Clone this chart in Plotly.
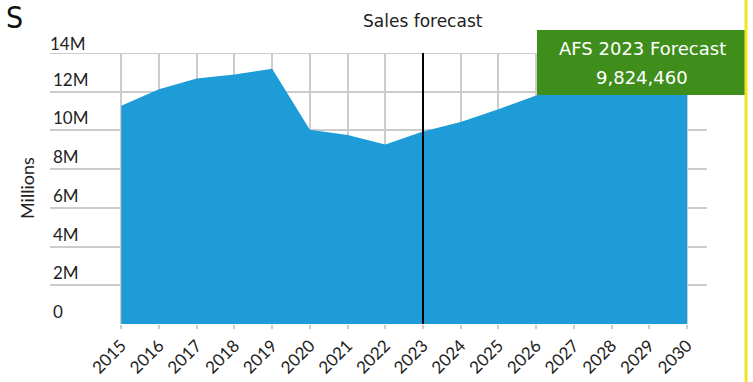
import plotly.graph_objects as go

years = list(range(2015, 2031))
sales = [11.27e6, 12.13e6, 12.68e6, 12.89e6, 13.19e6, 10.03e6, 9.77e6, 9.27e6,
         9.95e6, 10.43e6, 11.1e6, 11.8e6, 12.4e6, 12.9e6, 13.3e6, 13.7e6]
ytick_vals = [0, 2e6, 4e6, 6e6, 8e6, 10e6, 12e6, 14e6]
ytick_text = ["0", "2M", "4M", "6M", "8M", "10M", "12M", "14M"]
forecast_year = 2023
forecast_title = "AFS 2023 Forecast"
forecast_value = "9,824,460"

W, H = 753, 382
L, R, T, B = 50, 46, 53, 58
pw, ph = W - L - R, H - T - B


def px(x):
    return (x - L) / pw


def py(y):
    return (H - B - y) / ph


fig = go.Figure()
fig.add_trace(go.Scatter(
    x=years, y=sales, mode="lines", fill="tozeroy",
    line=dict(width=0, color="#1d9cd8"), fillcolor="#1d9cd8",
    hoverinfo="skip", showlegend=False,
))

fig.update_layout(
    width=W, height=H,
    margin=dict(l=L, r=R, t=T, b=B),
    paper_bgcolor="white", plot_bgcolor="white",
    font=dict(family="Lato", color="#222"),
    xaxis=dict(
        range=[2013.11, 2030.53], tickvals=years, ticktext=[str(y) for y in years],
        tickangle=-45, tickfont=dict(size=17, color="#222"),
        showgrid=True, gridcolor="#cccccc", gridwidth=2,
        ticks="outside", ticklen=4, tickcolor="#cccccc", tickwidth=2,
        zeroline=False, showline=False, automargin=False,
    ),
    yaxis=dict(
        range=[0, 14e6], tickvals=ytick_vals[:-1], ticktext=ytick_text[:-1],
        ticklabelposition="inside top", tickfont=dict(size=17, color="#222"),
        showgrid=True, gridcolor="#cccccc", gridwidth=2,
        zeroline=False, showline=False, automargin=False,
    ),
    shapes=[
        dict(type="line", xref="paper", yref="y", x0=0, x1=1,
             y0=ytick_vals[-1], y1=ytick_vals[-1], line=dict(color="#cccccc", width=2), layer="below"),
        dict(type="line", xref="x", yref="paper", x0=forecast_year, x1=forecast_year,
             y0=0, y1=1, line=dict(color="black", width=2), layer="above"),
        dict(type="rect", xref="paper", yref="paper", x0=px(537), x1=px(745),
             y0=py(95), y1=py(30), fillcolor="#3f8e1b", line=dict(width=0), layer="above"),
        dict(type="line", xref="paper", yref="paper", x0=px(746), x1=px(746),
             y0=py(382), y1=py(0), line=dict(color="#f2e51d", width=3), layer="above"),
    ],
    annotations=[
        dict(text=ytick_text[-1], xref="paper", yref="y", x=0, y=ytick_vals[-1],
             showarrow=False, font=dict(size=17, color="#222"), xanchor="left", yanchor="bottom",
             xshift=-2, yshift=-3),
        dict(text="Sales forecast", xref="paper", yref="paper", x=px(423), y=py(21),
             showarrow=False, font=dict(size=17, color="#222", family="DejaVu Sans"),
             xanchor="center", yanchor="middle"),
        dict(text="Millions", xref="paper", yref="paper", x=px(27), y=py(188),
             textangle=-90, showarrow=False, font=dict(size=18, color="#222"),
             xanchor="center", yanchor="middle"),
        dict(text=forecast_title, xref="paper", yref="paper", x=px(642), y=py(49),
             showarrow=False, font=dict(size=18, color="white", family="DejaVu Sans"),
             xanchor="center", yanchor="middle"),
        dict(text=forecast_value, xref="paper", yref="paper", x=px(642), y=py(77),
             showarrow=False, font=dict(size=18, color="white", family="DejaVu Sans"),
             xanchor="center", yanchor="middle"),
        dict(text="S", xref="paper", yref="paper", x=px(4), y=py(18),
             showarrow=False,
             font=dict(size=30, color="#111", family="DejaVu Sans Condensed"),
             xanchor="left", yanchor="middle"),
    ],
)

fig.write_html("out.html")
